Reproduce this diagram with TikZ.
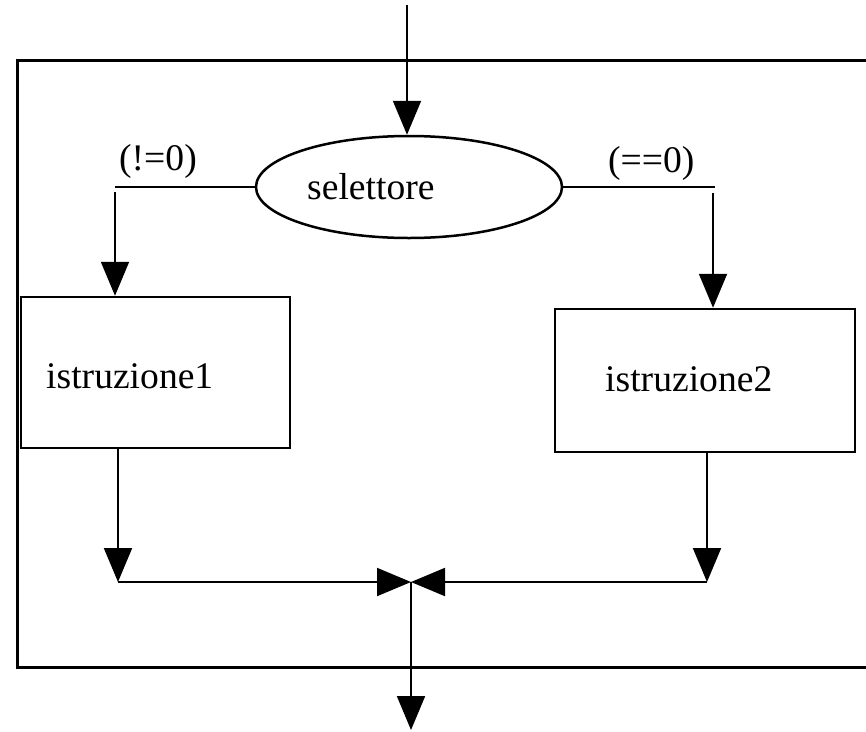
\documentclass[tikz,border=0pt]{standalone}
\usepackage{fontspec}
\setmainfont{Liberation Serif}
\usetikzlibrary{arrows.meta,shapes.geometric}
\begin{document}
\begin{tikzpicture}[x=1pt,y=-1pt,
  flow/.style={line width=2pt, -{Triangle[length=34pt,width=28pt]}},
  wire/.style={line width=2pt},
  block/.style={draw, line width=2.5pt, rectangle, inner sep=0pt},
  txt/.style={font=\fontsize{37.6}{44}\selectfont, inner sep=0pt, anchor=base west},
]
\useasboundingbox (0,0) rectangle (866,731);
\clip (0,0) rectangle (866,731);

% enclosing frame (its right side runs off the page)
\draw[line width=3pt] (900,60) -- (17,60) -- (17,667) -- (900,667);

% selector and the two statements
\node[draw, ellipse, line width=2.5pt, minimum width=306pt, minimum height=102pt, inner sep=0pt] (sel) at (409,187) {};
\node[txt] (selt) at (307,199) {selettore};
\node[block, minimum width=269pt, minimum height=151pt] (b1) at (155.5,372.5) {};
\node[txt] (t1) at (46,388) {istruzione1};
\node[block, minimum width=300pt, minimum height=143pt] (b2) at (705,380.5) {};
\node[txt] (t2) at (605,391) {istruzione2};

% branch conditions
\node[txt] (c1) at (119,170) {(!=0)};
\node[txt] (c2) at (608,172) {(==0)};

% connection points
\coordinate (top) at (407,5);
\coordinate (lc) at (115,185);
\coordinate (lv) at (115,192);
\coordinate (rc) at (715,187);
\coordinate (rv) at (713,193);
\coordinate (j1) at (118,582);
\coordinate (j2) at (707,582);
\coordinate (m) at (411,582);
\coordinate (out) at (411,730);

% entry
\draw[flow] (top) -- (top |- sel.north);

% branches
\draw[wire] (sel.west) -- (sel.west -| lc);
\draw[flow] (lv) -- (lv |- b1.north);
\draw[wire] (sel.east) -- (sel.east -| rc);
\draw[flow] (rv) -- (rv |- b2.north);

% merge
\draw[flow] (b1.south -| j1) -- (j1);
\draw[flow] (b2.south -| j2) -- (j2);
\draw[flow] (j1) -- (m);
\draw[flow] (j2) -- (m);
\draw[flow] (m) -- (out);
\end{tikzpicture}
\end{document}
